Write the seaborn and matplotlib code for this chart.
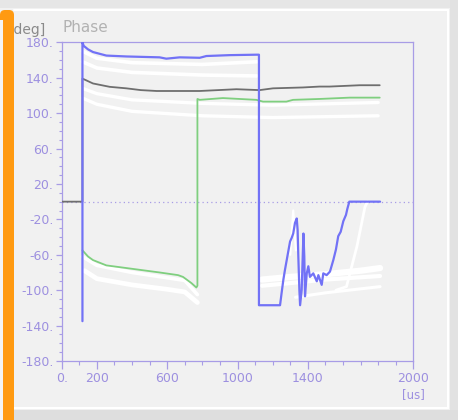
import numpy as np
import pandas as pd
import matplotlib
matplotlib.use("Agg")
import matplotlib.pyplot as plt
from matplotlib.patches import FancyBboxPatch, Rectangle
import seaborn as sns

# ---------------- data (time in us, phase in deg) ----------------
blue_t = [118, 118, 125, 150, 178, 254, 368, 557, 595, 671, 785, 823, 956, 1107, 1122,
          1122, 1242, 1251, 1261, 1270, 1280, 1289, 1299, 1308, 1317, 1327, 1337, 1342,
          1346, 1352, 1356, 1365, 1371, 1375, 1380, 1384, 1394, 1403, 1412, 1431, 1451,
          1460, 1479, 1488, 1507, 1526, 1545, 1560, 1573, 1587, 1602, 1617, 1625, 1636, 1811]
blue_p = [-135, 180, 176, 172, 169, 165, 164, 163, 161.5, 163, 162.5, 164.5, 165.5, 166, 166,
          -117, -117, -103, -88, -77, -66, -56, -45, -41, -36, -24, -19, -32,
          -62, -100, -117, -100, -62, -36, -62, -107, -81, -73, -85, -81, -90,
          -83, -94, -81, -83, -79, -66, -54, -39, -34, -22, -15, -8, 0, 0]

black_t = [0, 118, 118, 140, 178, 273, 368, 450, 540, 785, 994, 1126, 1202, 1373, 1467, 1524, 1695, 1809]
black_p = [0, 0, 139, 137, 133.5, 129.7, 128, 126, 125, 125, 127, 126, 128, 129, 130, 130, 131.5, 131.5]

green_t = [118, 150, 178, 254, 368, 557, 662, 690, 738, 766, 772, 772, 785, 917, 1107, 1145, 1278, 1316, 1467, 1638, 1809]
green_p = [-55, -62, -66, -72, -75, -80, -83, -85, -92, -97, -95, 116, 115, 117, 115, 113, 113, 115, 116, 117.5, 117.5]

# faded (white) reference traces
w1_t = [118, 200, 400, 800, 1110]
w1_p = [170, 162, 157, 155, 158]
w2_t = [118, 200, 400, 800, 1110]
w2_p = [158, 151, 146, 143, 142]
w3_t = [118, 200, 400, 800, 1200, 1800]
w3_p = [128, 122, 115, 111, 109, 112]
w4_t = [118, 200, 400, 800, 1200, 1800]
w4_p = [117, 110, 102, 97, 95, 97]
w5_t = [118, 200, 400, 600, 700, 772]
w5_p = [-62, -72, -80, -86, -89, -105]
w6_t = [130, 200, 400, 600, 700, 772]
w6_p = [-78, -87, -94, -99, -102, -114]
w7_t = [1140, 1300, 1500, 1700, 1811]
w7_p = [-88, -85, -82, -78, -75]
w8_t = [1140, 1300, 1500, 1811]
w8_p = [-95, -92, -88, -84]
w9_t = [1330, 1500, 1811]
w9_p = [-108, -103, -96]
w10_t = [1560, 1620, 1680, 1725, 1740]
w10_p = [-100, -96, -50, -6, 0]
w11_t = [1300, 1317, 1332]
w11_p = [-60, -10, -55]

x_ticks = [0, 200, 600, 1000, 1400, 2000]
x_labels = ["0.", "200", "600", "1000", "1400", "2000"]
y_ticks = [180, 140, 100, 60, 20, -20, -60, -100, -140, -180]
y_labels = ["180.", "140.", "100.", "60.", "20.", "-20.", "-60.", "-100.", "-140.", "-180."]

# ---------------- style ----------------
sns.set_style("ticks")
plt.rcParams["font.family"] = ["DejaVu Sans"]
W, H = 458, 420
BG = "#f1f1f1"
PURPLE = "#a89ce6"
TXT_P = "#9d90e0"

fig = plt.figure(figsize=(W / 100, H / 100), dpi=100, facecolor=BG)

# background decorations in pixel coords
bg = fig.add_axes([0, 0, 1, 1], zorder=0)
bg.set_xlim(0, W)
bg.set_ylim(H, 0)
bg.axis("off")
bg.add_patch(Rectangle((0, 0), W, 8, color="#e6e6e6", lw=0))
bg.add_patch(Rectangle((450, 0), 8, H, color="#e2e2e2", lw=0))
bg.add_patch(Rectangle((0, 410), W, 10, color="#dedede", lw=0))
bg.plot([14, 448], [10, 10], color="white", lw=1.5)
bg.plot([448, 448], [10, 408], color="white", lw=1.5)
bg.plot([14, 448], [408, 408], color="white", lw=1.5)
bg.text(9, 30, "[deg]", fontsize=10, color="#8a8a8a", va="center", ha="left")
bg.text(62, 27, "Phase", fontsize=11, color="#b2b2b2", va="center", ha="left")
bg.add_patch(FancyBboxPatch((0, 10), 14, 430, boxstyle="round,pad=0,rounding_size=5",
                            color="#ff9a12", lw=0, zorder=5))
bg.add_patch(Rectangle((0, 20), 3, 400, color="#f4f4f4", lw=0, zorder=6))
bg.text(413, 395, "[us]", fontsize=8.5, color=TXT_P, ha="center", va="center")

# main axes
ax = fig.add_axes([61.7 / W, 1 - 361 / H, 351.6 / W, (361 - 42.3) / H], zorder=1)
ax.set_facecolor("none")

def draw(t, p, color, lw, z):
    df = pd.DataFrame({"t": t, "phase": p})
    sns.lineplot(data=df, x="t", y="phase", sort=False, estimator=None,
                 color=color, lw=lw, ax=ax, zorder=z)

for (t, p, lw) in [(w1_t, w1_p, 2.6), (w2_t, w2_p, 2.6), (w3_t, w3_p, 2.4), (w4_t, w4_p, 2.4),
                   (w5_t, w5_p, 2.6), (w6_t, w6_p, 3.4), (w7_t, w7_p, 4.5), (w8_t, w8_p, 3.0),
                   (w9_t, w9_p, 2.2), (w10_t, w10_p, 2.0), (w11_t, w11_p, 1.6)]:
    draw(t, p, "white", lw, 2)

draw(green_t, green_p, "#7fcf7f", 1.3, 3)
draw(black_t, black_p, "#6e6e6e", 1.3, 4)
draw(blue_t, blue_p, "#7272f6", 1.6, 5)

ax.axhline(0, color=PURPLE, lw=0.9, ls=(0, (1, 2.5)), zorder=1)

ax.set_xlim(0, 2000)
ax.set_ylim(-180, 180)
ax.set_xticks(x_ticks)
ax.set_xticklabels(x_labels)
ax.set_xticks(np.arange(0, 2001, 100), minor=True)
ax.set_yticks(y_ticks)
ax.set_yticklabels(y_labels)
ax.set_yticks(np.arange(-180, 181, 10), minor=True)
ax.set_xlabel("")
ax.set_ylabel("")

ax.tick_params(axis="x", which="major", length=6, width=0.9, color=PURPLE, pad=2,
               labelsize=9, labelcolor=TXT_P)
ax.tick_params(axis="x", which="minor", length=3, width=0.8, color=PURPLE)
ax.tick_params(axis="y", which="major", length=4, width=0.9, color=PURPLE, pad=2,
               labelsize=9, labelcolor=TXT_P)
ax.tick_params(axis="y", which="minor", length=2, width=0.8, color=PURPLE)

for side in ["left", "bottom", "top", "right"]:
    ax.spines[side].set_visible(True)
    ax.spines[side].set_color(PURPLE)
    ax.spines[side].set_linewidth(0.9)
    ax.spines[side].set_linestyle((0, (2, 1)))
ax.grid(False)

fig.savefig("out.png", dpi=100, facecolor=BG)
